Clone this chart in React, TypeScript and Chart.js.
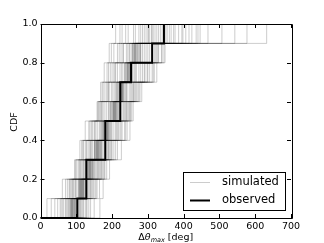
import React, { useEffect, useRef } from "react";
import { Chart, registerables } from "chart.js";

Chart.register(...registerables);

const xTicks = [0, 100, 200, 300, 400, 500, 600, 700];
const yTicks = [0, 0.2, 0.4, 0.6, 0.8, 1.0];

const observed = [103, 128, 128, 181, 181, 223, 223, 253, 312, 345];

// simulated samples (low / medium / high realisations)
const simA1 = [18, 61, 95, 110, 125, 158, 168, 178, 192, 210];
const simA2 = [40, 70, 98, 115, 135, 160, 175, 190, 205, 228];
const simA3 = [55, 80, 105, 120, 142, 165, 180, 195, 215, 245];
const simA4 = [30, 75, 100, 125, 150, 170, 188, 205, 225, 260];
const simA5 = [62, 88, 110, 130, 145, 168, 185, 200, 220, 238];
const simA6 = [70, 92, 108, 118, 138, 162, 172, 186, 198, 222];
const simA7 = [48, 85, 115, 135, 160, 180, 198, 215, 240, 275];
const simA8 = [75, 96, 120, 140, 155, 175, 192, 210, 232, 290];
const simA9 = [65, 90, 118, 138, 165, 185, 202, 222, 244, 280];
const simA10 = [72, 98, 122, 142, 168, 190, 206, 226, 248, 285];
const simA11 = [58, 82, 112, 128, 152, 172, 190, 208, 230, 265];
const simB1 = [85, 105, 130, 150, 175, 198, 215, 238, 258, 300];
const simB2 = [90, 112, 135, 155, 180, 205, 222, 245, 265, 320];
const simB3 = [95, 118, 140, 160, 185, 210, 228, 250, 270, 310];
const simB4 = [80, 110, 138, 165, 190, 215, 235, 255, 280, 340];
const simB5 = [100, 120, 145, 162, 188, 208, 225, 248, 268, 354];
const simB6 = [88, 115, 142, 158, 178, 200, 220, 242, 262, 330];
const simB7 = [92, 108, 128, 152, 172, 195, 212, 235, 255, 305];
const simB8 = [105, 125, 148, 170, 195, 212, 230, 258, 280, 365];
const simB9 = [78, 100, 125, 145, 170, 192, 210, 230, 250, 295];
const simB10 = [98, 122, 150, 168, 192, 218, 238, 262, 285, 372];
const simB11 = [86, 113, 136, 157, 182, 206, 226, 246, 266, 315];
const simB12 = [94, 117, 139, 163, 186, 209, 229, 252, 274, 345];
const simB13 = [102, 128, 152, 175, 200, 220, 240, 265, 290, 386];
const simB14 = [82, 106, 132, 153, 176, 202, 218, 240, 260, 325];
const simB15 = [96, 114, 134, 156, 181, 203, 224, 244, 264, 395];
const simB16 = [89, 119, 144, 166, 194, 214, 232, 256, 276, 335];
const simB17 = [108, 130, 155, 172, 198, 222, 242, 268, 295, 406];
const simB18 = [91, 111, 137, 159, 184, 204, 221, 243, 263, 312];
const simB19 = [99, 121, 146, 169, 189, 211, 231, 254, 278, 360];
const simB20 = [84, 109, 131, 151, 174, 196, 214, 236, 257, 302];
const simB21 = [87, 116, 141, 161, 187, 207, 227, 249, 271, 350];
const simC1 = [110, 135, 160, 185, 210, 232, 252, 280, 305, 423];
const simC2 = [120, 140, 165, 190, 215, 238, 258, 290, 318, 435];
const simC3 = [125, 148, 170, 195, 222, 242, 262, 298, 325, 446];
const simC4 = [130, 152, 175, 200, 228, 248, 268, 305, 330, 468];
const simC5 = [115, 138, 162, 188, 212, 235, 255, 285, 310, 398];
const simC6 = [140, 158, 180, 205, 235, 250, 272, 312, 338, 507];
const simC7 = [135, 155, 178, 210, 238, 252, 275, 315, 340, 543];
const simC8 = [150, 165, 185, 215, 242, 255, 278, 318, 345, 577];
const simC9 = [166, 175, 193, 226, 250, 259, 283, 325, 348, 632];
const simC10 = [118, 142, 168, 192, 218, 240, 260, 292, 322, 440];
const simC11 = [112, 132, 158, 180, 205, 228, 248, 275, 300, 376];
const simC12 = [128, 145, 172, 198, 225, 245, 265, 300, 328, 415];

const simulated = [
  simA1, simA2, simA3, simA4, simA5, simA6, simA7, simA8, simA9, simA10, simA11,
  simB1, simB2, simB3, simB4, simB5, simB6, simB7, simB8, simB9, simB10, simB11,
  simB12, simB13, simB14, simB15, simB16, simB17, simB18, simB19, simB20, simB21,
  simC1, simC2, simC3, simC4, simC5, simC6, simC7, simC8, simC9, simC10, simC11, simC12,
];

const SIM_COLOR = "rgba(0,0,0,0.2)";
const FONT = "'DejaVu Sans', sans-serif";

function cdfPoints(vals: number[]) {
  const s = [...vals].sort((a, b) => a - b);
  const n = s.length;
  return [{ x: 0, y: 0 }, ...s.map((v, i) => ({ x: v, y: (i + 1) / n }))];
}

const framePlugin = {
  id: "frame",
  afterDatasetsDraw(chart: any) {
    const { ctx, chartArea, scales } = chart;
    const { left, right, top, bottom } = chartArea;
    const x = scales.x;
    const y = scales.y;
    ctx.save();
    ctx.strokeStyle = "#000";
    ctx.lineWidth = 1;
    ctx.beginPath();
    ctx.rect(Math.round(left) + 0.5, Math.round(top) + 0.5, Math.round(right - left), Math.round(bottom - top));
    ctx.stroke();
    ctx.beginPath();
    const tl = 4;
    for (const v of xTicks) {
      const px = Math.round(x.getPixelForValue(v)) + 0.5;
      ctx.moveTo(px, bottom);
      ctx.lineTo(px, bottom - tl);
      ctx.moveTo(px, top);
      ctx.lineTo(px, top + tl);
    }
    for (const v of yTicks) {
      const py = Math.round(y.getPixelForValue(v)) + 0.5;
      ctx.moveTo(left, py);
      ctx.lineTo(left + tl, py);
      ctx.moveTo(right, py);
      ctx.lineTo(right - tl, py);
    }
    ctx.stroke();

    // legend
    const lx = 183, ly = 172, lw = 102, lh = 38;
    ctx.fillStyle = "#fff";
    ctx.fillRect(lx, ly, lw, lh);
    ctx.strokeStyle = "#000";
    ctx.lineWidth = 1;
    ctx.strokeRect(lx + 0.5, ly + 0.5, lw, lh);
    const rows = [
      { label: "simulated", color: SIM_COLOR, width: 1, yy: 182.5 },
      { label: "observed", color: "#000", width: 2, yy: 200.5 },
    ];
    ctx.font = `11.5px ${FONT}`;
    ctx.textBaseline = "middle";
    ctx.textAlign = "left";
    for (const r of rows) {
      ctx.strokeStyle = r.color;
      ctx.lineWidth = r.width;
      ctx.beginPath();
      ctx.moveTo(190, r.yy);
      ctx.lineTo(210, r.yy);
      ctx.stroke();
      ctx.fillStyle = "#000";
      ctx.fillText(r.label, 222, r.yy);
    }

    // axis titles
    ctx.fillStyle = "#000";
    ctx.textBaseline = "alphabetic";
    const base = 240;
    const parts = [
      { t: "Δ", f: `9.5px ${FONT}`, dy: 0 },
      { t: "θ", f: `italic 9.5px ${FONT}`, dy: 0 },
      { t: "max", f: `italic 6.5px ${FONT}`, dy: 2 },
      { t: " [deg]", f: `9.5px ${FONT}`, dy: 0 },
    ];
    let total = 0;
    for (const p of parts) {
      ctx.font = p.f;
      total += ctx.measureText(p.t).width;
    }
    let cx = (left + right) / 2 - total / 2;
    for (const p of parts) {
      ctx.font = p.f;
      ctx.fillText(p.t, cx, base + p.dy);
      cx += ctx.measureText(p.t).width;
    }

    ctx.save();
    ctx.translate(14.5, (top + bottom) / 2 + 1);
    ctx.rotate(-Math.PI / 2);
    ctx.font = `9.5px ${FONT}`;
    ctx.textAlign = "center";
    ctx.textBaseline = "middle";
    ctx.fillText("CDF", 0, 0);
    ctx.restore();
    ctx.restore();
  },
};

export default function App() {
  const ref = useRef<HTMLCanvasElement>(null);
  useEffect(() => {
    if (!ref.current) return;
    const datasets: any[] = [
      {
        label: "observed",
        data: cdfPoints(observed),
        borderColor: "#000",
        borderWidth: 2,
        stepped: "before",
        pointRadius: 0,
        fill: false,
        order: 0,
      },
      ...simulated.map((s, i) => ({
        label: i === 0 ? "simulated" : "",
        data: cdfPoints(s),
        borderColor: SIM_COLOR,
        borderWidth: 1,
        stepped: "before",
        pointRadius: 0,
        fill: false,
        order: 1,
      })),
    ];
    const chart = new Chart(ref.current, {
      type: "line",
      data: { datasets },
      plugins: [framePlugin],
      options: {
        animation: false,
        responsive: false,
        parsing: false,
        layout: { padding: { top: 24, right: 33, left: 0, bottom: 0 } },
        plugins: { legend: { display: false }, tooltip: { enabled: false } },
        scales: {
          x: {
            type: "linear",
            min: 0,
            max: 700,
            afterFit: (s: any) => { s.height = 25; },
            afterBuildTicks: (s: any) => { s.ticks = xTicks.map((v) => ({ value: v })); },
            grid: { display: false, drawTicks: false },
            border: { display: false },
            ticks: {
              padding: 3,
              color: "#000",
              font: { family: FONT, size: 9.5 },
              maxRotation: 0,
              callback: (v: any) => String(v),
            },
          },
          y: {
            type: "linear",
            min: 0,
            max: 1,
            afterFit: (s: any) => { s.width = 40.5; },
            afterBuildTicks: (s: any) => { s.ticks = yTicks.map((v) => ({ value: v })); },
            grid: { display: false, drawTicks: false },
            border: { display: false },
            ticks: {
              padding: 3,
              color: "#000",
              font: { family: FONT, size: 9.5 },
              callback: (v: any) => Number(v).toFixed(1),
            },
          },
        },
      },
    } as any);
    return () => chart.destroy();
  }, []);
  return (
    <div style={{ position: "fixed", left: 0, top: 0, width: 324, height: 243, background: "#fff" }}>
      <canvas ref={ref} width={324} height={243} />
    </div>
  );
}
